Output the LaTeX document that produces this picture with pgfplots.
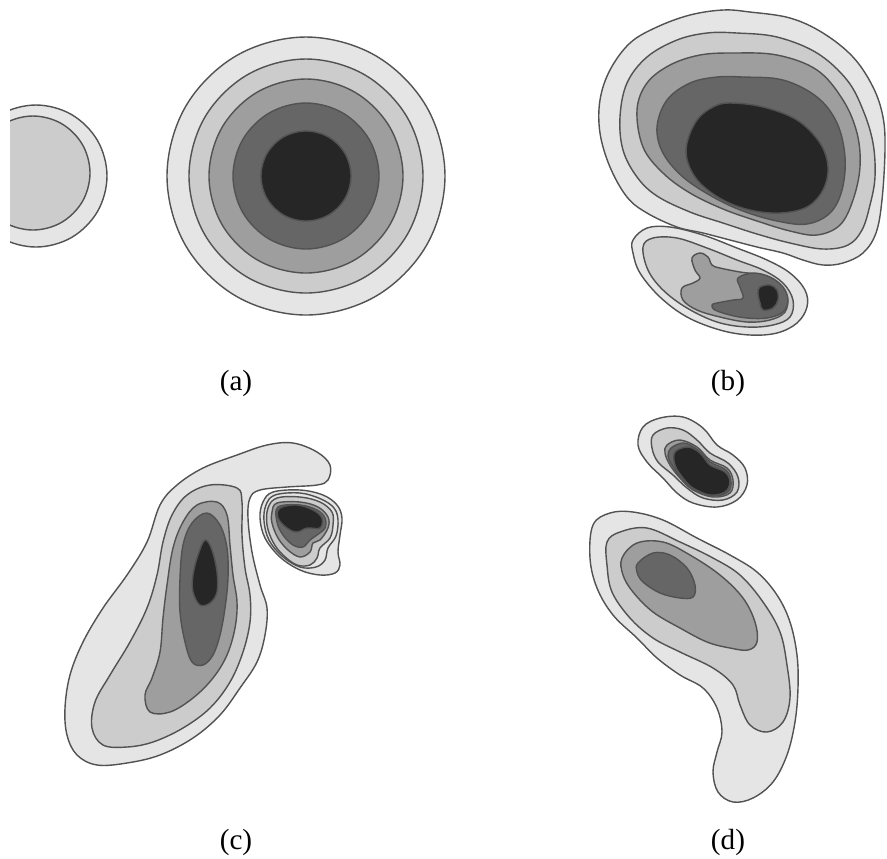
\documentclass[border=0pt]{standalone}
\usepackage{pgfplots}
\pgfplotsset{compat=1.18}
\usepackage{fontspec}
\setmainfont{Liberation Serif}
\definecolor{l1}{gray}{0.90}
\definecolor{l2}{gray}{0.80}
\definecolor{l3}{gray}{0.62}
\definecolor{l4}{gray}{0.40}
\definecolor{l5}{gray}{0.15}
\definecolor{ln}{gray}{0.32}
\begin{document}
\begin{tikzpicture}
\begin{axis}[
  scale only axis, width=88.7mm, height=85.8mm,
  xmin=0, xmax=887, ymin=0, ymax=858, y dir=reverse,
  hide axis,
  every axis plot/.append style={draw=ln, line width=0.4pt, smooth cycle, tension=0.6},
]
\path (rel axis cs:0,0) rectangle (rel axis cs:1,1);
% ---------- (a) left circle
\addplot[fill=l1] coordinates {(107,176) (97.5,140.5) (71.5,114.5) (36,105) (0.5,114.5) (-25.5,140.5) (-35,176) (-25.5,211.5) (0.5,237.5) (36,247) (71.5,237.5) (97.5,211.5)};
\addplot[fill=l2] coordinates {(90,173) (82.4,144.5) (61.5,123.6) (33,116) (4.5,123.6) (-16.4,144.5) (-24,173) (-16.4,201.5) (4.5,222.4) (33,230) (61.5,222.4) (82.4,201.5)};
\addplot[fill=white, draw=none, sharp plot] coordinates {(0,90) (10,90) (10,260) (0,260)} -- cycle;
% ---------- (a) big circle
\addplot[fill=l1] coordinates {(445,176) (426.4,106.5) (375.5,55.6) (306,37) (236.5,55.6) (185.6,106.5) (167,176) (185.6,245.5) (236.5,296.4) (306,315) (375.5,296.4) (426.4,245.5)};
\addplot[fill=l2] coordinates {(423,176) (407.3,117.5) (364.5,74.7) (306,59) (247.5,74.7) (204.7,117.5) (189,176) (204.7,234.5) (247.5,277.3) (306,293) (364.5,277.3) (407.3,234.5)};
\addplot[fill=l3] coordinates {(403,176) (390,127.5) (354.5,92) (306,79) (257.5,92) (222,127.5) (209,176) (222,224.5) (257.5,260) (306,273) (354.5,260) (390,224.5)};
\addplot[fill=l4] coordinates {(379,176) (369.2,139.5) (342.5,112.8) (306,103) (269.5,112.8) (242.8,139.5) (233,176) (242.8,212.5) (269.5,239.2) (306,249) (342.5,239.2) (369.2,212.5)};
\addplot[fill=l5] coordinates {(351,176) (345,153.5) (328.5,137) (306,131) (283.5,137) (267,153.5) (261,176) (267,198.5) (283.5,215) (306,221) (328.5,215) (345,198.5)};
% ---------- (b) big blob
\addplot[fill=l1] coordinates {(750,12) (790,18) (823,33) (853,57) (873,87) (883,117) (885,150) (882,200) (876,233) (863,253) (843,263) (823,265) (803,260) (783,253) (757,247) (730,240) (703,233) (677,227) (647,213) (627,197) (610,167) (600,133) (600,100) (610,70) (630,43) (657,27) (690,15) (723,10)};
\addplot[fill=l2] coordinates {(620,117) (627,83) (647,57) (677,40) (707,33) (737,33) (777,37) (817,53) (847,80) (863,110) (873,143) (875,177) (870,205) (862,230) (848,245) (823,249) (790,243) (757,234) (723,223) (690,212) (657,196) (637,177) (623,150)};
\addplot[fill=l3] coordinates {(637,110) (647,83) (670,65) (700,55) (733,53) (777,55) (817,70) (843,100) (857,133) (860,167) (853,200) (840,225) (817,235) (790,231) (757,221) (723,209) (690,193) (663,173) (643,147)};
\addplot[fill=l4] coordinates {(657,127) (667,100) (690,83) (717,77) (743,77) (783,80) (817,97) (837,123) (845,157) (842,190) (830,213) (807,224) (777,221) (743,211) (713,197) (683,177) (663,153)};
\addplot[fill=l5] coordinates {(687,143) (697,120) (713,107) (730,103) (763,107) (797,120) (820,143) (828,167) (823,190) (807,207) (780,213) (750,210) (723,200) (700,183) (688,163)};
% ---------- (b) small blob
\addplot[fill=l1] coordinates {(633,240) (647,228) (670,227) (703,235) (737,248) (767,260) (790,273) (805,290) (807,307) (797,323) (777,333) (750,335) (720,330) (687,317) (660,297) (640,273) (633,253)};
\addplot[fill=l2] coordinates {(643,247) (653,238) (677,238) (707,248) (737,260) (763,270) (783,283) (793,300) (790,317) (773,325) (747,327) (717,322) (687,308) (663,290) (648,270)};
\addplot[fill=l3] coordinates {(692,258) (700,253) (708,257) (712,265) (720,268) (740,272) (760,275) (777,283) (787,297) (785,312) (770,320) (747,322) (720,317) (697,310) (683,300) (682,288) (693,283) (700,278) (695,270)};
\addplot[fill=l4] coordinates {(717,303) (733,300) (743,298) (740,287) (738,278) (753,273) (770,277) (783,287) (788,300) (783,312) (767,318) (747,318) (730,315) (715,310) (712,305)};
\addplot[fill=l5] coordinates {(760,287) (770,285) (777,290) (778,300) (773,308) (763,310) (760,303) (758,293)};
% ---------- (c) main blob
\addplot[fill=l1] coordinates {(293,443) (317,452) (330,465) (328,480) (317,485) (287,487) (260,490) (250,498) (248,518) (252,552) (260,585) (267,608) (265,635) (257,662) (240,688) (220,715) (193,738) (160,755) (127,763) (97,765) (77,755) (67,735) (65,708) (70,675) (83,642) (103,608) (127,575) (147,542) (160,505) (177,485) (203,468) (237,455) (267,445)};
\addplot[fill=l2] coordinates {(237,488) (242,502) (242,535) (245,568) (250,595) (250,622) (243,652) (230,682) (210,708) (183,728) (153,742) (127,747) (103,745) (92,728) (95,702) (110,675) (130,642) (147,608) (157,575) (163,542) (172,515) (187,495) (210,485)};
\addplot[fill=l3] coordinates {(217,502) (227,515) (230,545) (233,575) (237,602) (235,628) (227,655) (213,678) (193,698) (170,712) (150,712) (145,695) (152,678) (160,652) (163,618) (167,585) (173,548) (183,522) (197,505)};
\addplot[fill=l4] coordinates {(207,513) (220,525) (227,548) (228,578) (225,608) (220,635) (213,655) (203,665) (192,662) (185,642) (180,612) (180,578) (183,545) (192,523)};
\addplot[fill=l5] coordinates {(205,540) (212,550) (217,572) (217,592) (210,603) (200,605) (193,592) (193,575) (198,555)};
% ---------- (c) small blob
\addplot[fill=l1] coordinates {(273,492) (300,490) (323,495) (337,505) (342,518) (340,535) (338,552) (340,565) (335,573) (320,575) (300,570) (280,557) (265,538) (260,518) (263,502)};
\addplot[fill=l1] coordinates {(275,495) (300,493) (321,499) (334,508) (338,520) (336,536) (328,548) (325,560) (316,567) (300,567) (282,556) (269,540) (264,521) (266,505)};
\addplot[fill=l2] coordinates {(277,498) (300,497) (320,502) (332,512) (333,525) (330,538) (320,548) (317,558) (310,565) (297,565) (283,555) (273,542) (267,525) (268,508)};
\addplot[fill=l3] coordinates {(277,503) (300,502) (318,507) (328,517) (328,528) (320,540) (313,543) (310,552) (300,557) (288,550) (278,538) (272,523) (272,512)};
\addplot[fill=l4] coordinates {(278,507) (300,505) (317,510) (325,518) (325,528) (317,535) (310,540) (303,547) (293,545) (283,535) (277,522)};
\addplot[fill=l5] coordinates {(280,508) (297,505) (313,510) (322,518) (320,528) (307,528) (297,532) (287,528) (278,518)};
% ---------- (d) top blob
\addplot[fill=l1] coordinates {(643,427) (660,418) (683,417) (703,428) (717,445) (733,455) (745,468) (747,485) (737,500) (717,507) (693,503) (677,493) (663,478) (647,462) (638,445)};
\addplot[fill=l2] coordinates {(653,435) (667,428) (683,430) (697,440) (710,453) (728,463) (738,477) (737,492) (723,500) (703,498) (687,488) (673,475) (658,462) (652,448)};
\addplot[fill=l3] coordinates {(667,445) (680,440) (697,447) (710,460) (727,468) (733,480) (730,493) (713,497) (693,490) (680,478) (670,465) (665,453)};
\addplot[fill=l4] coordinates {(671,448) (684,443) (698,450) (710,462) (726,470) (731,481) (728,492) (712,496) (693,489) (681,478) (672,465) (668,456)};
\addplot[fill=l5] coordinates {(675,452) (688,447) (700,453) (710,465) (725,472) (730,482) (725,492) (710,495) (693,488) (683,478) (675,465)};
% ---------- (d) main blob
\addplot[fill=l1] coordinates {(593,525) (610,513) (633,512) (663,520) (697,538) (730,555) (757,572) (777,595) (790,622) (797,655) (798,688) (795,722) (787,755) (773,782) (753,798) (733,802) (718,792) (713,772) (717,752) (722,732) (717,708) (703,688) (680,675) (657,658) (637,638) (613,615) (597,588) (590,558)};
\addplot[fill=l2] coordinates {(607,542) (620,532) (647,528) (680,542) (713,558) (740,575) (763,602) (780,632) (787,665) (790,698) (783,722) (767,732) (750,725) (740,705) (733,685) (713,668) (680,652) (653,638) (630,618) (612,592) (607,565)};
\addplot[fill=l3] coordinates {(622,558) (637,543) (663,542) (690,555) (720,575) (743,598) (755,622) (757,642) (748,650) (730,648) (707,642) (680,628) (653,612) (633,592) (623,575)};
\addplot[fill=l4] coordinates {(638,563) (653,553) (670,555) (687,568) (695,585) (693,597) (680,598) (660,593) (643,582) (637,572)};
% ---------- labels
\node at (axis cs:236,383) {\fontsize{8.3}{10}\selectfont (a)};
\node at (axis cs:728,383) {\fontsize{8.3}{10}\selectfont (b)};
\node at (axis cs:236,842) {\fontsize{8.3}{10}\selectfont (c)};
\node at (axis cs:728,842) {\fontsize{8.3}{10}\selectfont (d)};
\end{axis}
\end{tikzpicture}
\end{document}
